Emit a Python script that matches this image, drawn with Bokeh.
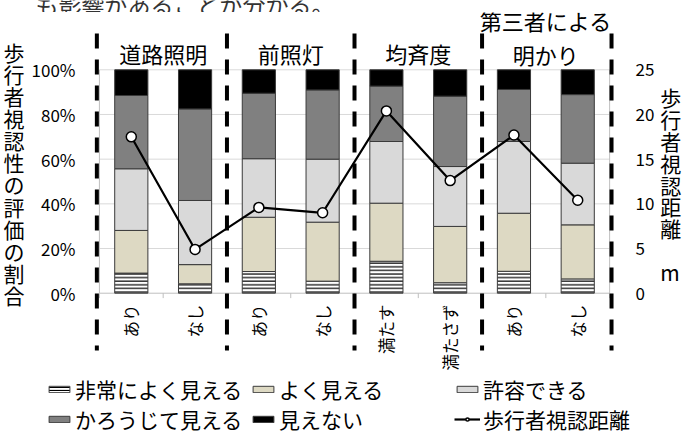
import math

from bokeh.core.properties import value
from bokeh.embed import file_html
from bokeh.layouts import column
from bokeh.models import (ColumnDataSource, FixedTicker, Legend, LegendItem,
                          LinearAxis, PrintfTickFormatter, Range1d)
from bokeh.plotting import figure
from bokeh.resources import INLINE

# ---- data -------------------------------------------------------------
groups = ["道路照明", "前照灯", "均斉度", "第三者による\n明かり"]
conditions = ["あり", "なし", "あり", "なし", "満たす", "満たさず", "あり", "なし"]

# share of each visibility rating (%), bottom to top of each bar
very_good = [9.0, 4.2, 9.7, 5.4, 14.3, 4.7, 9.8, 6.4]
good = [19.1, 8.6, 24.3, 26.4, 26.0, 25.2, 26.0, 24.2]
acceptable = [27.6, 28.7, 26.2, 28.2, 27.6, 26.8, 32.1, 27.6]
barely = [32.8, 41.0, 29.3, 31.0, 24.8, 31.5, 23.3, 30.7]
invisible = [11.5, 17.5, 10.5, 9.0, 7.3, 11.8, 8.8, 11.1]

# pedestrian recognition distance (m), right axis
distance = [17.5, 4.9, 9.6, 9.0, 20.4, 12.6, 17.7, 10.4]

rating_names = ["非常によく見える", "よく見える", "許容できる", "かろうじて見える", "見えない"]
line_name = "歩行者視認距離"

pct_ticks = [0, 20, 40, 60, 80, 100]
dist_ticks = [0, 5, 10, 15, 20, 25]

# ---- styling ----------------------------------------------------------
FONT = "Noto Sans CJK JP"
colors = ["#ffffff", "#ddd9c3", "#d9d9d9", "#808080", "#000000"]
hatches = ["-", " ", " ", " ", " "]
BAR_LINE = "#3a3a3a"

xs = [i + 0.5 for i in range(len(conditions))]
src = ColumnDataSource(dict(
    x=xs, very_good=very_good, good=good, acceptable=acceptable,
    barely=barely, invisible=invisible, distance=distance,
))
stack_fields = ["very_good", "good", "acceptable", "barely", "invisible"]

# ---- top strip: tail of the preceding paragraph ---------------------
strip = figure(width=684, height=12, output_backend="svg", toolbar_location=None,
               x_range=Range1d(0, 684), y_range=Range1d(0, 12),
               x_axis_location=None, y_axis_location=None,
               min_border=0, outline_line_color=None, frame_align=False)
strip.grid.visible = False
strip.text(x=[35], y=[9], text=["も影響があることが分かる。"],
           text_font=value(FONT), text_font_size="23px", text_color="#333333",
           text_align="left", text_baseline="middle")

# ---- main chart -------------------------------------------------------
p = figure(width=684, height=366, output_backend="svg", toolbar_location=None,
           x_range=Range1d(-0.1083, 8.155), y_range=Range1d(-38.18, 125.65),
           x_axis_location=None,
           min_border_left=88, min_border_right=62,
           min_border_top=0, min_border_bottom=0,
           outline_line_color=None, frame_align=False)
p.grid.visible = False
p.extra_y_ranges = {"dist": Range1d(-38.18 / 4, 125.65 / 4)}

n = len(conditions)

# grid lines and axis frame
p.segment(x0=[0] * 5, x1=[n] * 5, y0=pct_ticks[1:], y1=pct_ticks[1:],
          line_color="#d9d9d9", line_width=1)
p.segment(x0=[0, 0, n], x1=[n, 0, n], y0=[0, 0, 0], y1=[0, 100, 100],
          line_color="#bfbfbf", line_width=1)
p.segment(x0=list(range(n + 1)), x1=list(range(n + 1)),
          y0=[0] * (n + 1), y1=[-2.2] * (n + 1),
          line_color="#bfbfbf", line_width=1)

# stacked bars
bars = p.vbar_stack(stack_fields, x="x", width=0.52, source=src,
                    fill_color=colors, line_color=BAR_LINE, line_width=1,
                    hatch_pattern=hatches, hatch_color="black",
                    hatch_scale=3.6, hatch_weight=1.2)

# group separators
n_groups = len(groups)
sep_x = [2 * i for i in range(n_groups + 1)]
sep_x[0] -= 0.04
sep_x[-1] += 0.03
p.segment(x0=sep_x, x1=sep_x, y0=[116.25] * len(sep_x), y1=[-25.65] * len(sep_x),
          line_color="black", line_width=4, line_dash="15 11")

# distance line
p.line(x="x", y="distance", source=src, y_range_name="dist",
       line_color="black", line_width=2.2)
p.scatter(x="x", y="distance", source=src, y_range_name="dist",
          size=10, fill_color="white", line_color="black", line_width=1.5)

# group headings
group_x = [2 * i + 1 for i in range(n_groups)]
group_y = [107.74 + g.count("\n") * 6.94 for g in groups]
p.text(x=group_x, y=group_y, text=groups, text_font=value(FONT),
       text_font_size="22px", text_align="center", text_baseline="middle",
       text_line_height=1.04, text_color="black")

# condition labels, rotated
p.text(x=xs, y=[-5.06] * n, text=conditions, angle=math.pi / 2,
       text_font=value(FONT), text_font_size="16.5px",
       text_align="right", text_baseline="middle", text_color="black")

# left axis
yax = p.yaxis[0]
yax.ticker = FixedTicker(ticks=pct_ticks)
yax.formatter = PrintfTickFormatter(format="%d%%")
yax.axis_line_color = None
yax.major_tick_line_color = None
yax.minor_tick_line_color = None
yax.major_label_standoff = 11
yax.major_label_text_font = FONT
yax.major_label_text_font_size = "17px"
yax.major_label_text_color = "black"
yax.axis_label = "\n".join("歩行者視認性の評価の割合") + "\n\n"
yax.axis_label_orientation = "horizontal"
yax.axis_label_standoff = 4
yax.axis_label_text_font = FONT
yax.axis_label_text_font_size = "21px"
yax.axis_label_text_font_style = "normal"
yax.axis_label_text_line_height = 0.737
yax.axis_label_text_color = "black"

# right axis
rax = LinearAxis(y_range_name="dist", ticker=FixedTicker(ticks=dist_ticks))
rax.axis_line_color = None
rax.major_tick_line_color = None
rax.minor_tick_line_color = None
rax.major_label_standoff = 10
rax.major_label_text_font = FONT
rax.major_label_text_font_size = "17px"
rax.major_label_text_color = "black"
rax.axis_label = "\n".join("歩行者視認距離") + "\n\nm\n"
rax.axis_label_orientation = "horizontal"
rax.axis_label_standoff = 3
rax.axis_label_text_font = FONT
rax.axis_label_text_font_size = "21px"
rax.axis_label_text_font_style = "normal"
rax.axis_label_text_line_height = 0.73
rax.axis_label_text_color = "black"
p.add_layout(rax, "right")

# ---- legend strip -----------------------------------------------------
leg = figure(width=684, height=54, output_backend="svg", toolbar_location=None,
             x_range=Range1d(0, 1), y_range=Range1d(0, 1),
             x_axis_location=None, y_axis_location=None,
             min_border=0, outline_line_color=None, frame_align=False)
leg.grid.visible = False

# legend proxies sit well outside the visible range so only their icons show
items = []
for name, c, h in zip(rating_names, colors, hatches):
    r = leg.vbar(x=[-50], top=[-50], bottom=[-51], width=0.5, fill_color=c,
                 line_color=BAR_LINE, line_width=1, hatch_pattern=h,
                 hatch_color="black", hatch_scale=3.0, hatch_weight=1.2)
    items.append(LegendItem(label=name, renderers=[r]))
rl = leg.line(x=[-50, -49], y=[-50, -50], line_color="black", line_width=2.2)
rs = leg.scatter(x=[-50], y=[-50], size=9, fill_color="white", line_color="black",
                 line_width=1.5)
items.insert(5, LegendItem(label=line_name, renderers=[rl, rs]))

legend = Legend(items=items, location=(46, -2), orientation="horizontal", ncols=3,
                padding=0, margin=0, spacing=0, border_line_color=None,
                background_fill_alpha=0,
                glyph_width=26, glyph_height=8, label_standoff=3,
                label_width=175,
                label_text_font=FONT, label_text_font_size="21px",
                label_text_color="black")
leg.add_layout(legend)

layout = column(strip, p, leg, spacing=0)
open("out.html", "w").write(file_html(layout, INLINE))
